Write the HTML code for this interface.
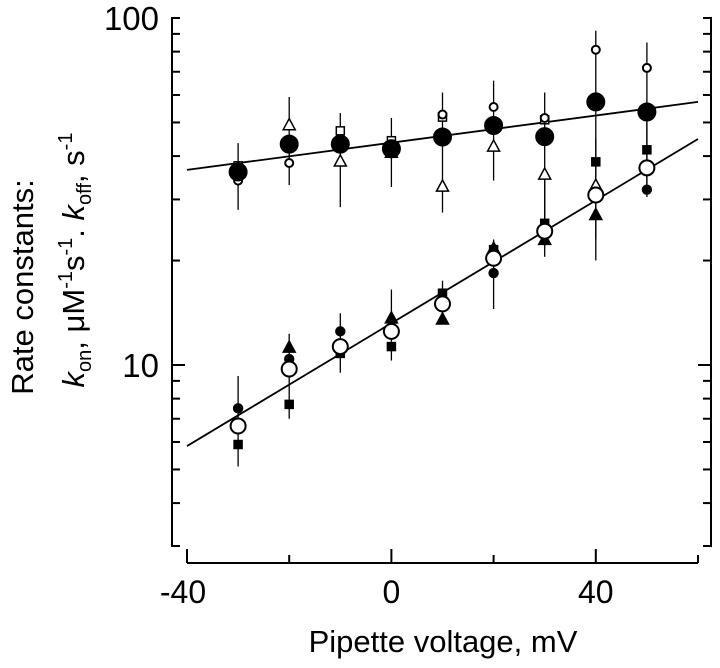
<!DOCTYPE html>
<html><head><meta charset="utf-8"><style>
html,body{margin:0;padding:0;background:#fff;}
svg{display:block;font-family:"Liberation Sans",Arial,sans-serif;}
</style></head><body>
<svg id="chart" width="720" height="668" viewBox="0 0 720 668" xmlns="http://www.w3.org/2000/svg">
<g id="axes"></g>
<g id="marks"></g>
<text x="443" y="652" font-size="31" text-anchor="middle">Pipette voltage, mV</text>
<g font-size="31">
<text transform="translate(33,287) rotate(-90)" text-anchor="middle">Rate constants:</text>
<text transform="translate(84,260) rotate(-90)" text-anchor="middle"><tspan font-style="italic">k</tspan><tspan font-size="20" dy="7">on</tspan><tspan dy="-7">, μM</tspan><tspan font-size="20" dy="-12">-1</tspan><tspan dy="12">s</tspan><tspan font-size="20" dy="-12">-1</tspan><tspan dy="12">. </tspan><tspan font-style="italic">k</tspan><tspan font-size="20" dy="7">off</tspan><tspan dy="-7">, s</tspan><tspan font-size="20" dy="-12">-1</tspan></text>
</g>
</svg>
<script>
const voltages = [-30,-20,-10,0,10,20,30,40,50];
// koff series (upper)
const koffMean = [36,43.3,43.3,42,45.4,49,45.5,57.3,53.6];
const koffOpenCircle = [34,38.2,null,null,52.7,55.4,51.5,81,71.8];
const koffOpenSquare = [37.5,null,47.3,44.3,51.8,null,50.9,null,null];
const koffOpenTriangle = [null,49,38.5,40.8,32.6,42.5,35.3,32.8,null];
const koffErrHi = [43.6,59.2,53.2,51.5,61,66,61,92,85];
const koffErrLo = [28,33,28.5,32.6,27.5,34,24,20,30.5];
// kon series (lower)
const konMean = [6.67,9.74,11.3,12.5,15,20.3,24.3,30.9,37];
const konFilledCircle = [7.5,10.4,12.5,null,null,18.4,null,null,32];
const konFilledSquare = [5.9,7.7,10.8,11.3,16.1,21.5,25.6,38.5,41.7];
const konFilledTriangle = [null,11.2,null,13.6,13.5,21.6,22.9,27,null];
const konErrHi = [9.3,12.3,14.1,16.5,17.5,23,35,45,50];
const konErrLo = [5.1,7.0,9.5,10.3,13.2,14.5,20.5,23,31.5];
// fit lines
const fitX = [-40,60];
const koffFit = [36.5,57.3];
const konFit = [5.84,44.8];
const xTicks = [-40,-20,0,20,40,60];
const xTickLabels = ["-40","","0","","40",""];
const yTicks = [3,4,5,6,7,8,9,10,20,30,40,50,60,70,80,90,100];
const yTickLabels = {10:"10",100:"100"};

const X0=187,X1=698,XMIN=-40,XMAX=60;
const YT=18,YB=546,DEC=347;
const L=172,R=711,AX=563;
function sx(v){return X0+(v-XMIN)/(XMAX-XMIN)*(X1-X0);}
function sy(v){return YT+(2-Math.log10(v))*DEC;}
const NS="http://www.w3.org/2000/svg";
function mk(tag,attrs,parent){const e=document.createElementNS(NS,tag);for(const k in attrs)e.setAttribute(k,attrs[k]);parent.appendChild(e);return e;}
const axes=document.getElementById('axes');
const marks=document.getElementById('marks');
const st={stroke:"#000","stroke-width":2,fill:"none"};

let p=mk('path',Object.assign({d:`M${L+8},${YT} H${L} V${YB} H${L+8}`},st),axes);


p=mk('path',Object.assign({d:`M${R-8},${YT} H${R} V${YB} H${R-8}`},st),axes);


yTicks.forEach(t=>{
  const y=sy(t);const len=(t===10||t===100)?13:8;
  if(t===3||t===100)return;
  let a=mk('line',Object.assign({x1:L,x2:L+len,y1:y,y2:y},st),axes);
  
  
  let b=mk('line',Object.assign({x1:R,x2:R-len,y1:y,y2:y},st),axes);
  
  
});
yTicks.forEach(t=>{
  if(!yTickLabels[t])return;
  const tx=mk('text',{x:159,y:sy(t)+12,"font-size":33,"text-anchor":"end"},axes);
  tx.textContent=yTickLabels[t];
  
  
});
p=mk('line',Object.assign({x1:X0,x2:X1,y1:AX,y2:AX},st),axes);


xTicks.forEach((t,i)=>{
  const x=sx(t);const len=xTickLabels[i]?14:8;
  const a=mk('line',Object.assign({x1:x,x2:x,y1:AX,y2:AX-len},st),axes);
  
  
  if(xTickLabels[i]){
    const tx=mk('text',{x:x-(t<0?4:0),y:AX+40,"font-size":32,"text-anchor":"middle"},axes);
    tx.textContent=xTickLabels[i];
    
    
  }
});

function fit(vals,name){
  const l=mk('line',{x1:sx(fitX[0]),y1:sy(vals[0]),x2:sx(fitX[1]),y2:sy(vals[1]),stroke:"#000","stroke-width":1.8},marks);
  
  
}
function errs(hi,lo,name){
  voltages.forEach((v,i)=>{
    const l=mk('line',{x1:sx(v),x2:sx(v),y1:sy(hi[i]),y2:sy(lo[i]),stroke:"#000","stroke-width":1.3},marks);
    
    
  });
}
function pts(vals,shape,filled,size,name){
  voltages.forEach((v,i)=>{
    if(vals[i]==null)return;
    const x=sx(v),y=sy(vals[i]);
    const f=filled?"#000":"#fff";
    let e;
    if(shape==='c')e=mk('circle',{cx:x,cy:y,r:size,fill:f,stroke:"#000","stroke-width":2},marks);
    else if(shape==='s')e=mk('rect',{x:x-size,y:y-size,width:2*size,height:2*size,fill:f,stroke:"#000","stroke-width":1.5},marks);
    else e=mk('polygon',{points:`${x},${y-size*1.15} ${x-size},${y+size*0.7} ${x+size},${y+size*0.7}`,fill:f,stroke:"#000","stroke-width":1.5},marks);
    
    
  });
}
errs(koffErrHi,koffErrLo,'koff-error-bar');
errs(konErrHi,konErrLo,'kon-error-bar');
fit(koffFit,'koff-fit-line');
fit(konFit,'kon-fit-line');
pts(koffOpenSquare,'s',false,4,'koff-open-square');
pts(koffOpenCircle,'c',false,4,'koff-open-circle');
pts(koffOpenTriangle,'t',false,6,'koff-open-triangle');
pts(koffMean,'c',true,8.5,'koff-mean');
pts(konFilledSquare,'s',true,4,'kon-filled-square');
pts(konFilledCircle,'c',true,4.2,'kon-filled-circle');
pts(konFilledTriangle,'t',true,6,'kon-filled-triangle');
pts(konMean,'c',false,7.5,'kon-mean');
</script>
</body></html>
